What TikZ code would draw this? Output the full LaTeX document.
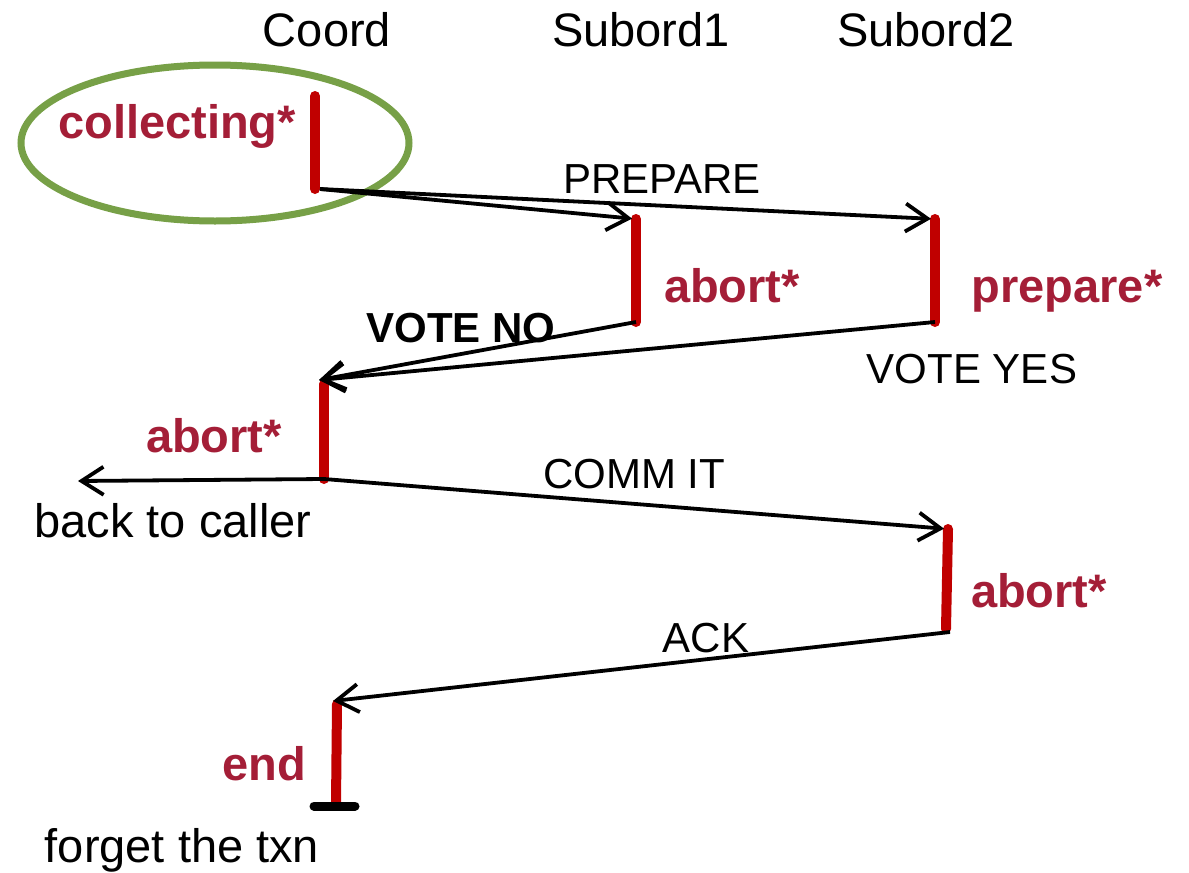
\documentclass[tikz,border=0pt]{standalone}
\usepackage{fontspec}
\setmainfont{Liberation Sans}
\usetikzlibrary{arrows.meta,calc}
\definecolor{barred}{HTML}{C00000}
\definecolor{statered}{HTML}{A41E37}
\definecolor{ringgreen}{HTML}{77A047}

\begin{document}
\begin{tikzpicture}[
    x=1pt, y=-1pt,
    >={Straight Barb[length=22pt,width=28pt]},
    head/.style={
        anchor=base,
        inner sep=0pt,
        font=\fontsize{47}{56}\selectfont
    },
    state/.style={
        anchor=base,
        inner sep=0pt,
        font=\fontsize{47}{56}\selectfont\bfseries,
        text=statered
    },
    msglabel/.style={
        anchor=base,
        inner sep=0pt,
        font=\fontsize{42}{50}\selectfont
    },
    note/.style={
        anchor=base,
        inner sep=0pt,
        font=\fontsize{47}{56}\selectfont
    },
    lifebar/.style={
        draw=barred,
        line width=10pt,
        line cap=round
    },
    msg/.style={
        ->,
        draw=black,
        line width=3.8pt
    }
]
\useasboundingbox (0,0) rectangle (1189,873);

% participants
\node[head] (hcoord) at (327,46) {Coord};
\node[head] (hsub1) at (641,46) {Subord1};
\node[head] (hsub2) at (926,46) {Subord2};

% bar ends
\coordinate (c1t) at (315,96);
\coordinate (c1b) at (315,189);
\coordinate (s1t) at (636,219);
\coordinate (s1b) at (636,322);
\coordinate (s2t) at (935,219);
\coordinate (s2b) at (935,322);
\coordinate (c2t) at (324,384);
\coordinate (c2b) at (324,479);
\coordinate (ret) at (78,481);
\coordinate (s3t) at (948,529);
\coordinate (s3b) at (946,629);
\coordinate (c3t) at (337,704);
\coordinate (c3b) at (336,804);
\coordinate (endl) at (314,806);
\coordinate (endr) at (355,806);

% highlight
\draw[ringgreen, line width=7pt] (215,143) ellipse [x radius=194pt, y radius=78pt];

% states
\foreach \a/\b in {c1t/c1b,s1t/s1b,s2t/s2b,c2t/c2b,s3t/s3b,c3t/c3b}
    \draw[lifebar] (\a) -- (\b);
\draw[line width=9pt, line cap=round] (endl) -- (endr);

\node[state] (lcollect) at (177,138) {collecting*};
\node[state] (labort1) at (732,302) {abort*};
\node[state] (lprep2) at (1067,302) {prepare*};
\node[state] (labortc) at (214,452) {abort*};
\node[state] (labort2) at (1039,607) {abort*};
\node[state] (lend) at (264,780) {end};

% messages
\draw[msg, shorten >=4pt] ($(c1b)+(5,0)$) -- (s1t);
\draw[msg, shorten >=4pt] ($(c1b)+(5,0)$) -- (s2t);
\draw[msg] (s1b) -- ($(c2t)+(-5,-4)$);
\draw[msg] (s2b) -- ($(c2t)+(-5,-4)$);
\draw[msg] (c2b) -- (ret);
\draw[msg, shorten >=4pt] (c2b) -- (s3t);
\draw[msg] ($(s3b)+(4,3)$) -- ($(c3t)+(-4,-3)$);

\node[msglabel] (mprepare) at (662,193) {PREPARE};
\node[msglabel, font=\fontsize{42}{50}\selectfont\bfseries] (mvoteno) at (461,342) {VOTE NO};
\node[msglabel] (mvoteyes) at (972,383) {VOTE YES};
\node[msglabel] (mcommit) at (634,488) {COMM IT};
\node[msglabel] (mack) at (706,652) {ACK};

\node[note] (nback) at (173,537) {back to caller};
\node[note] (nforget) at (182,862) {forget the txn};

\end{tikzpicture}
\end{document}
